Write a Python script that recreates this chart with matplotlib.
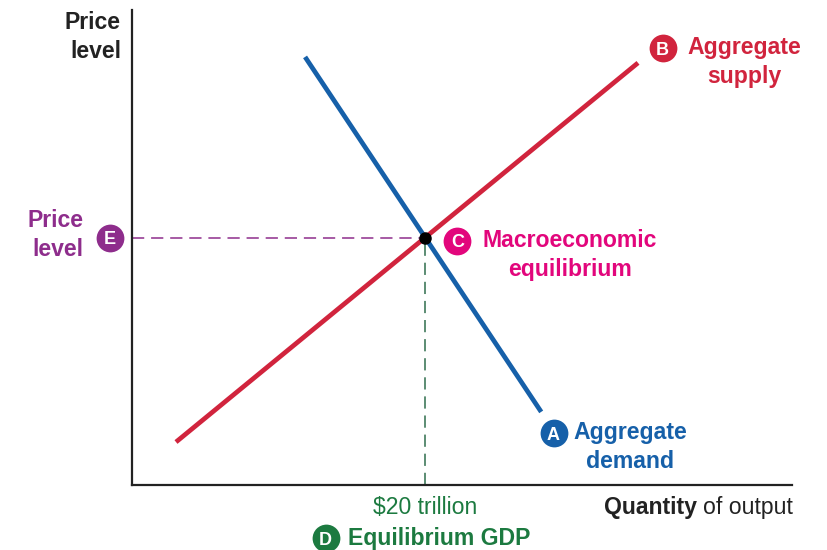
import matplotlib
matplotlib.use("Agg")
import matplotlib.pyplot as plt
import numpy as np

plt.rcParams['font.family'] = ['Liberation Sans', 'DejaVu Sans']

# curves: quantity (trillions) and price level (index)
demand_q = [11.8, 27.9]
demand_p = [173.3, 29.6]
supply_q = [3.0, 34.5]
supply_p = [17.4, 170.9]
eq_q = 20.0
eq_p = 100.0
eq_label = "$20 trillion"

RED = '#d1243d'
BLUE = '#1660a9'
PINK = '#e2067c'
PURPLE = '#8e2d8c'
GREEN = '#1c7a40'
DKGREEN = '#2f6d4d'
INK = '#222222'
FS = 16.6
LS = 1.32


def badge(ax, x, y, letter, color):
    ax.plot(x, y, 'o', ms=20, color=color, mec='none', clip_on=False, zorder=5)
    ax.text(x, y, letter, color='white', fontsize=13, fontweight='bold',
            ha='center', va='center_baseline', clip_on=False, zorder=6)


fig = plt.figure(figsize=(8.28, 5.5), dpi=100)
ax = fig.add_axes([132 / 828, 65 / 550, 660 / 828, 475 / 550])
ax.set_xlim(0, 45)
ax.set_ylim(0, 192.3)

for s in ['top', 'right']:
    ax.spines[s].set_visible(False)
for s in ['left', 'bottom']:
    ax.spines[s].set_color(INK)
    ax.spines[s].set_linewidth(1.6)
ax.set_xticks([])
ax.set_yticks([])

# guide lines to the equilibrium point
ax.plot([0, eq_q], [eq_p, eq_p], color=PURPLE, lw=1.1, dashes=(8, 4.5), zorder=2)
ax.plot([eq_q, eq_q], [0, eq_p], color=DKGREEN, lw=1.1, dashes=(8, 4.5), zorder=2)

ax.plot(supply_q, supply_p, color=RED, lw=3.4, solid_capstyle='butt', zorder=3)
ax.plot(demand_q, demand_p, color=BLUE, lw=3.4, solid_capstyle='butt', zorder=3)
ax.plot(eq_q, eq_p, 'o', color='black', ms=8, zorder=4)

# axis titles
ax.text(-0.75, 181.5, "Price\nlevel", color=INK, fontsize=FS, fontweight='bold',
        ha='right', va='center', multialignment='right', linespacing=LS,
        clip_on=False)
q_rest = ax.text(45.05, -9.3, "of output", color=INK, fontsize=FS,
                 ha='right', va='center', clip_on=False)
ax.annotate("Quantity", xy=(0, 0.5), xycoords=q_rest, xytext=(-4.5, 0),
            textcoords='offset points', color=INK, fontsize=FS, fontweight='bold',
            ha='right', va='center')

# B: aggregate supply
badge(ax, 36.18, 176.9, "B", RED)
ax.text(37.88, 171.3, "Aggregate\nsupply", color=RED, fontsize=FS, fontweight='bold',
        ha='left', va='center', multialignment='center', linespacing=LS,
        clip_on=False)

# C: macroeconomic equilibrium
badge(ax, 22.18, 98.8, "C", PINK)
ax.text(23.89, 93.1, "Macroeconomic\nequilibrium", color=PINK, fontsize=FS,
        fontweight='bold', ha='left', va='center', multialignment='center',
        linespacing=LS)

# A: aggregate demand
badge(ax, 28.74, 21.05, "A", BLUE)
ax.text(30.10, 15.4, "Aggregate\ndemand", color=BLUE, fontsize=FS, fontweight='bold',
        ha='left', va='center', multialignment='center', linespacing=LS)

# E: price level
badge(ax, -1.50, eq_p, "E", PURPLE)
ax.text(-3.34, 101.2, "Price\nlevel", color=PURPLE, fontsize=FS, fontweight='bold',
        ha='right', va='center', multialignment='right', linespacing=LS,
        clip_on=False)

# D: equilibrium GDP
ax.text(eq_q, -9.3, eq_label, color=GREEN, fontsize=FS, ha='center', va='center',
        clip_on=False)
badge(ax, 13.2, -21.5, "D", GREEN)
ax.text(14.75, -21.5, "Equilibrium GDP", color=GREEN, fontsize=FS, fontweight='bold',
        ha='left', va='center', clip_on=False)

fig.savefig("out.png", dpi=100)
